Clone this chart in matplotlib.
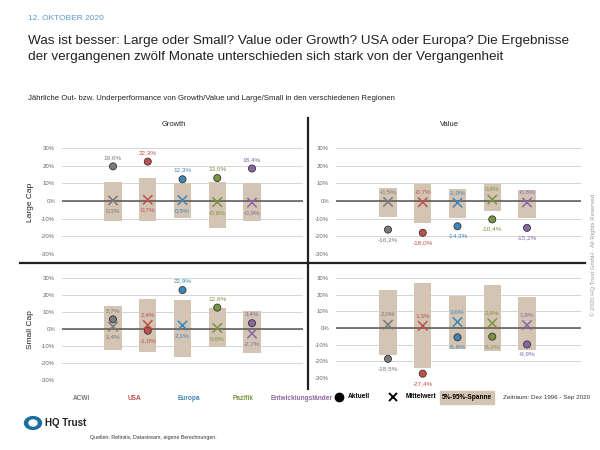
import matplotlib
matplotlib.use("Agg")
import matplotlib.pyplot as plt
from matplotlib.patches import Rectangle, Circle, Wedge

plt.rcParams['font.family'] = ['Liberation Sans', 'DejaVu Sans']

# data
regions = ['ACWI', 'USA', 'Europa', 'Pazifik', 'Entwicklungsländer']
colors = ['#7a7a7a', '#c0504d', '#3f86b8', '#7a9440', '#8a67a3']
band_color = '#d3c4b3'

# Large Cap / Growth
lg_now = [19.6, 22.3, 12.3, 13.0, 18.4]
lg_mean = [0.3, 0.7, 0.5, -0.6, -0.9]
lg_lo = [-11.1, -11.3, -9.8, -15.4, -11.1]
lg_hi = [10.5, 13.1, 10.1, 10.7, 10.1]
# Large Cap / Value
lv_now = [-16.2, -18.0, -14.3, -10.4, -15.2]
lv_mean = [-0.5, -0.7, -1.0, 0.8, -0.8]
lv_lo = [-8.8, -12.2, -9.4, -5.6, -9.9]
lv_hi = [7.5, 9.6, 6.9, 9.9, 6.4]
# Small Cap / Growth
sg_now = [5.7, -1.0, 22.9, 12.6, 3.4]
sg_mean = [1.4, 2.4, 2.1, 0.6, -2.7]
sg_lo = [-12.6, -13.6, -16.3, -10.6, -14.0]
sg_hi = [13.4, 17.9, 16.9, 12.4, 10.4]
# Small Cap / Value
sv_now = [-18.5, -27.4, -5.6, -5.2, -9.9]
sv_mean = [2.0, 1.3, 3.6, 2.9, 1.8]
sv_lo = [-16.4, -23.9, -12.7, -13.7, -12.9]
sv_hi = [22.7, 26.9, 19.4, 25.9, 18.4]

yticks = [-30, -20, -10, 0, 10, 20, 30]

W, H = 600, 450
fig = plt.figure(figsize=(6, 4.5), dpi=100)


def fx(px):
    return px / W


def fy(py):
    return 1 - py / H


def fmt(v):
    return ('%.1f%%' % v).replace('.', ',')


def panel(left, right, top, bottom, cat0, now, mean, lo, hi):
    ax = fig.add_axes([fx(left), fy(bottom), fx(right - left), (bottom - top) / H])
    step = 34.75
    ax.set_xlim((left - cat0) / step, (right - cat0) / step)
    ax.set_ylim(-30, 30)
    x = list(range(len(now)))
    ax.bar(x, [h - l for h, l in zip(hi, lo)], bottom=lo, width=0.5,
           color=band_color, zorder=2, clip_on=False)
    ax.scatter(x, now, s=26, c=colors, edgecolors='#333333', linewidths=0.6,
               zorder=4, clip_on=False)
    ax.scatter(x, mean, s=45, marker='x', c=colors, linewidths=1.1,
               zorder=4, clip_on=False)
    for i in x:
        up = now[i] > mean[i]
        ax.annotate(fmt(now[i]), (i, now[i]), xytext=(0, 6.5 if up else -7),
                    textcoords='offset points', ha='center',
                    va='center', fontsize=4.6, color=colors[i])
        ax.annotate(fmt(mean[i]), (i, mean[i]), xytext=(0, -7.5 if up else 7.5),
                    textcoords='offset points', ha='center',
                    va='center', fontsize=4.6, color=colors[i])
    ax.axhline(0, color='#555555', lw=1.1, zorder=3)
    ax.set_yticks(yticks)
    ax.set_yticklabels(['%d%%' % t for t in yticks], fontsize=4.3, color='#666666')
    ax.tick_params(axis='y', length=0, pad=5)
    ax.set_xticks([])
    ax.grid(axis='y', color='#cfcfcf', lw=0.6, zorder=0)
    for s in ax.spines.values():
        s.set_visible(False)
    return ax


panel(62, 303, 148, 254, 113, lg_now, lg_mean, lg_lo, lg_hi)
panel(336, 581, 148, 254, 388, lv_now, lv_mean, lv_lo, lv_hi)
panel(62, 303, 278, 380, 113, sg_now, sg_mean, sg_lo, sg_hi)
panel(336, 581, 278, 378, 388, sv_now, sv_mean, sv_lo, sv_hi)

# dividers
fig.add_artist(plt.Line2D([fx(20), fx(585)], [fy(263), fy(263)], color='#222222', lw=1.6))
fig.add_artist(plt.Line2D([fx(308), fx(308)], [fy(118), fy(389)], color='#222222', lw=1.6))

# header
fig.text(fx(28), fy(18), '12. OKTOBER 2020', fontsize=6.0, color='#5a9bd0', va='center')
fig.text(fx(28), fy(41), 'Was ist besser: Large oder Small? Value oder Growth? USA oder Europa? Die Ergebnisse',
         fontsize=9.7, color='#222222', va='center')
fig.text(fx(28), fy(57), 'der vergangenen zwölf Monate unterschieden sich stark von der Vergangenheit',
         fontsize=9.7, color='#222222', va='center')
fig.text(fx(28), fy(99), 'Jährliche Out- bzw. Underperformance von Growth/Value und Large/Small in den verschiedenen Regionen',
         fontsize=5.6, color='#222222', va='center')

fig.text(fx(174), fy(124), 'Growth', fontsize=5.4, ha='center', va='center', color='#222222')
fig.text(fx(449), fy(124), 'Value', fontsize=5.4, ha='center', va='center', color='#222222')
fig.text(fx(30), fy(202), 'Large Cap', fontsize=6, rotation=90, ha='center', va='center', color='#222222')
fig.text(fx(30), fy(330), 'Small Cap', fontsize=6, rotation=90, ha='center', va='center', color='#222222')

# region legend
leg_x = [81, 135, 189, 243, 302]
for name, c, px in zip(regions, colors, leg_x):
    fig.text(fx(px), fy(398), name, fontsize=4.7, color=c, ha='center', va='center', fontweight='bold')

fig.add_artist(plt.Line2D([fx(339)], [fy(397)], marker='o', markersize=6, color='black'))
fig.text(fx(348), fy(397), 'Aktuell', fontsize=4.7, fontweight='bold', va='center')
fig.add_artist(plt.Line2D([fx(393)], [fy(397)], marker='x', markersize=6, color='black', mew=1.4))
fig.text(fx(406), fy(397), 'Mittelwert', fontsize=4.7, fontweight='bold', va='center')
fig.add_artist(Rectangle((fx(440), fy(404)), fx(54), 13 / H, color=band_color, transform=fig.transFigure))
fig.text(fx(467), fy(397.5), '5%-95%-Spanne', fontsize=4.7, fontweight='bold', ha='center', va='center')
fig.text(fx(503), fy(398), 'Zeitraum: Dez 1996 - Sep 2020', fontsize=4.5, va='center', color='#333333')

# logo + footer
fig.add_artist(Circle((fx(33), fy(423)), 8.5 / W, color='#1d6f9f', transform=fig.transFigure))
fig.add_artist(Wedge((fx(33), fy(423)), 4 / W, 0, 360, color='white', transform=fig.transFigure))
fig.text(fx(45), fy(423), 'HQ Trust', fontsize=7, fontweight='bold', va='center', color='#222222')
fig.text(fx(90), fy(438), 'Quellen: Refinitiv, Datastream, eigene Berechnungen.', fontsize=3.8,
         va='center', color='#333333')
fig.text(fx(593), fy(255), '© 2020 HQ Trust GmbH · All Rights Reserved', fontsize=4.3, rotation=90,
         ha='center', va='center', color='#999999')

fig.savefig('out.png', dpi=100)
